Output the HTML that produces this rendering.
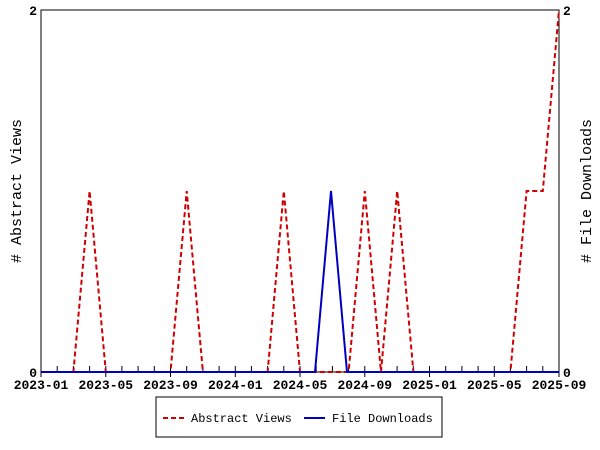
<!DOCTYPE html>
<html><head><style>body{margin:0;background:#fff}svg{display:block}</style></head><body>
<svg width="600" height="450" xmlns="http://www.w3.org/2000/svg" font-family="Liberation Mono, monospace" font-size="13" font-weight="bold">
<rect x="41" y="10" width="518" height="362" fill="none" stroke="#000" stroke-width="1"/>
<path stroke="#000" stroke-width="1" fill="none" d="M41,372V366M57.2,372V366M73.4,372V366M89.6,372V366M105.8,372V366M121.9,372V366M138.1,372V366M154.3,372V366M170.5,372V366M186.7,372V366M202.9,372V366M219.1,372V366M235.3,372V366M251.4,372V366M267.6,372V366M283.8,372V366M300,372V366M316.2,372V366M332.4,372V366M348.6,372V366M364.8,372V366M380.9,372V366M397.1,372V366M413.3,372V366M429.5,372V366M445.7,372V366M461.9,372V366M478.1,372V366M494.3,372V366M510.4,372V366M526.6,372V366M542.8,372V366M559,372V366M41,372V377M105.8,372V377M170.5,372V377M235.3,372V377M300,372V377M364.8,372V377M429.5,372V377M494.3,372V377M559,372V377"/>
<g text-anchor="middle">
<text x="41" y="389">2023-01</text><text x="105.8" y="389">2023-05</text><text x="170.5" y="389">2023-09</text><text x="235.3" y="389">2024-01</text><text x="300" y="389">2024-05</text><text x="364.8" y="389">2024-09</text><text x="429.5" y="389">2025-01</text><text x="494.3" y="389">2025-05</text><text x="559" y="389">2025-09</text>
</g>
<text x="37" y="377" text-anchor="end">0</text><text x="37" y="15" text-anchor="end">2</text>
<text x="563" y="377">0</text><text x="563" y="15">2</text>
<text transform="translate(21,191) rotate(-90)" text-anchor="middle" font-weight="normal" font-size="15">#&#160;Abstract&#160;Views</text>
<text transform="translate(591,191) rotate(-90)" text-anchor="middle" font-weight="normal" font-size="15">#&#160;File&#160;Downloads</text>
<polyline fill="none" stroke="#d00000" stroke-width="2" stroke-dasharray="5,3" points="41,372 73.4,372 89.6,191 105.8,372 170.5,372 186.7,191 202.9,372 267.6,372 283.8,191 300,372 348.6,372 364.8,191 381,372 397.2,191 413.4,372 510.4,372 526.6,191 542.8,191 559,10"/>
<polyline fill="none" stroke="#0000c0" stroke-width="2" points="41,372 315,372 331,191 347,372 559,372"/>
<rect x="156" y="397" width="286" height="40" fill="#fff" stroke="#000"/>
<line x1="163" y1="418" x2="184" y2="418" stroke="#d00000" stroke-width="2" stroke-dasharray="5,3"/>
<text x="191" y="422" font-weight="normal" font-size="12">Abstract Views</text>
<line x1="304" y1="418" x2="325" y2="418" stroke="#0000c0" stroke-width="2"/>
<text x="332" y="422" font-weight="normal" font-size="12">File Downloads</text>
</svg>
</body></html>
